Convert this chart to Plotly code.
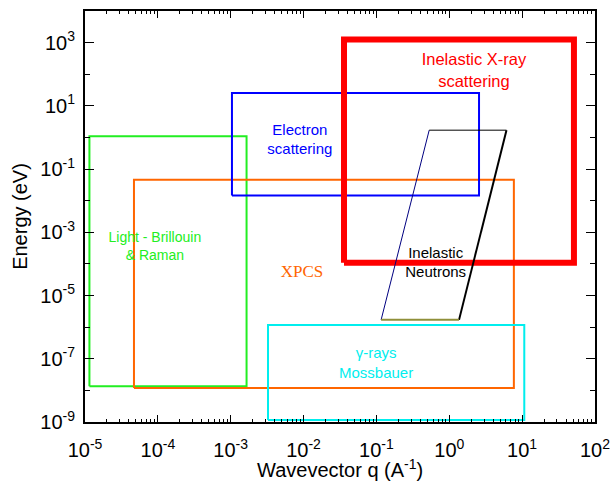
import plotly.graph_objects as go

# Measurement regions: (q_min, q_max) in 1/A and (E_min, E_max) in eV
light_q = [1.15e-5, 1.65e-3]
light_e = [1.35e-8, 1.1]
xpcs_q = [4.7e-5, 7.7]
xpcs_e = [1.2e-8, 0.046]
electron_q = [1.04e-3, 2.56]
electron_e = [0.0146, 25.3]
ixs_q = [0.0359, 51.4]
ixs_e = [1.09e-4, 1245]
gamma_q = [3.25e-3, 10.7]
gamma_e = [1.15e-9, 1.17e-6]

# Inelastic neutron scattering region (parallelogram corners)
neutron_q_top = [0.53, 6.1]
neutron_q_bottom = [0.116, 1.36]
neutron_e = [1.7e-6, 1.7]

# Region labels and their anchor points
labels = ["Inelastic X-ray<br>scattering", "Electron<br>scattering",
          "Light - Brillouin<br>& Raman", "XPCS", "Inelastic<br>Neutrons",
          "γ-rays<br>Mossbauer"]
label_q = [2.18, 8.9e-3, 9.1e-5, 9.5e-3, 0.65, 0.099]
label_e = [120, 0.78, 3.3e-4, 5.2e-5, 1.0e-4, 6.8e-8]
label_colors = ["#ff0000", "#0000ff", "#22ee22", "#ff6600", "#000000", "#00eeee"]
label_fonts = ["Liberation Sans", "Liberation Sans", "Liberation Sans",
               "Liberation Serif", "Liberation Sans", "Liberation Sans"]
label_sizes = [16.5, 15, 14, 17, 15, 15]

x_ticks = [1e-5, 1e-4, 1e-3, 1e-2, 1e-1, 1e0, 1e1, 1e2]
x_ticktext = ["10<sup>-5</sup>", "10<sup>-4</sup>", "10<sup>-3</sup>", "10<sup>-2</sup>",
              "10<sup>-1</sup>", "10<sup>0</sup>", "10<sup>1</sup>", "10<sup>2</sup>"]
y_ticks = [1e-9, 1e-7, 1e-5, 1e-3, 1e-1, 1e1, 1e3]
y_ticktext = ["10<sup>-9</sup>", "10<sup>-7</sup>", "10<sup>-5</sup>", "10<sup>-3</sup>",
              "10<sup>-1</sup>", "10<sup>1</sup>", "10<sup>3</sup>"]
y_minor_ticks = [1e-8, 1e-6, 1e-4, 1e-2, 1e0, 1e2]

x_title = "Wavevector q (A<sup>-1</sup>)"
y_title = "Energy (eV)"


def box(q, e, color, width):
    return go.Scatter(
        x=[q[0], q[1], q[1], q[0], q[0]],
        y=[e[0], e[0], e[1], e[1], e[0]],
        mode="lines", line=dict(color=color, width=width),
        hoverinfo="skip", showlegend=False,
    )


def segment(qs, es, color, width):
    return go.Scatter(x=qs, y=es, mode="lines", line=dict(color=color, width=width),
                      hoverinfo="skip", showlegend=False)


fig = go.Figure()
fig.add_trace(box(light_q, light_e, "#22ee22", 2))
fig.add_trace(box(xpcs_q, xpcs_e, "#ff6600", 2))
fig.add_trace(box(electron_q, electron_e, "#0000ff", 2))
fig.add_trace(box(gamma_q, gamma_e, "#00eeee", 2))
fig.add_trace(box(ixs_q, ixs_e, "#ff0000", 6))

# Neutron parallelogram edges
fig.add_trace(segment([neutron_q_bottom[0], neutron_q_top[0]], neutron_e, "#000080", 1))
fig.add_trace(segment(neutron_q_top, [neutron_e[1], neutron_e[1]], "#000000", 1))
fig.add_trace(segment([neutron_q_bottom[1], neutron_q_top[1]], neutron_e, "#000000", 2))
fig.add_trace(segment(neutron_q_bottom, [neutron_e[0], neutron_e[0]], "#8f8f3a", 2))

for txt, q, e, c, f, s in zip(labels, label_q, label_e, label_colors, label_fonts, label_sizes):
    fig.add_trace(go.Scatter(
        x=[q], y=[e], mode="text", text=[txt],
        textfont=dict(color=c, size=s, family=f),
        textposition="middle center", hoverinfo="skip", showlegend=False,
    ))

axis_common = dict(
    type="log", showgrid=False, zeroline=False, showline=True, linecolor="black",
    linewidth=2, mirror="allticks", ticks="inside", tickcolor="black", tickwidth=1,
    tickfont=dict(size=20, color="black", family="Liberation Sans"), automargin=False,
)

fig.update_xaxes(
    **axis_common, range=[-5, 2], tickmode="array", tickvals=x_ticks, ticktext=x_ticktext,
    ticklen=7, ticklabelstandoff=9,
    minor=dict(ticks="inside", ticklen=3, dtick="D1", tickcolor="black", tickwidth=1),
)
fig.update_yaxes(
    **axis_common, range=[-9, 4], tickmode="array", tickvals=y_ticks, ticktext=y_ticktext,
    ticklen=9, ticklabelstandoff=4,
    minor=dict(ticks="inside", ticklen=5, tickmode="array",
               tickvals=y_minor_ticks, tickcolor="black", tickwidth=1),
    title=dict(text=y_title, font=dict(size=20, color="black", family="Liberation Sans"),
               standoff=7),
)

# x-axis title placed below the tick labels
fig.add_annotation(
    text=x_title, xref="paper", yref="paper", x=0.5, y=-0.112,
    xanchor="center", yanchor="middle", showarrow=False,
    font=dict(size=20, color="black", family="Liberation Sans"),
)

fig.update_layout(
    width=613, height=481,
    margin=dict(l=85, r=18, t=11, b=59),
    paper_bgcolor="white", plot_bgcolor="white",
)

fig.write_html("out.html")
